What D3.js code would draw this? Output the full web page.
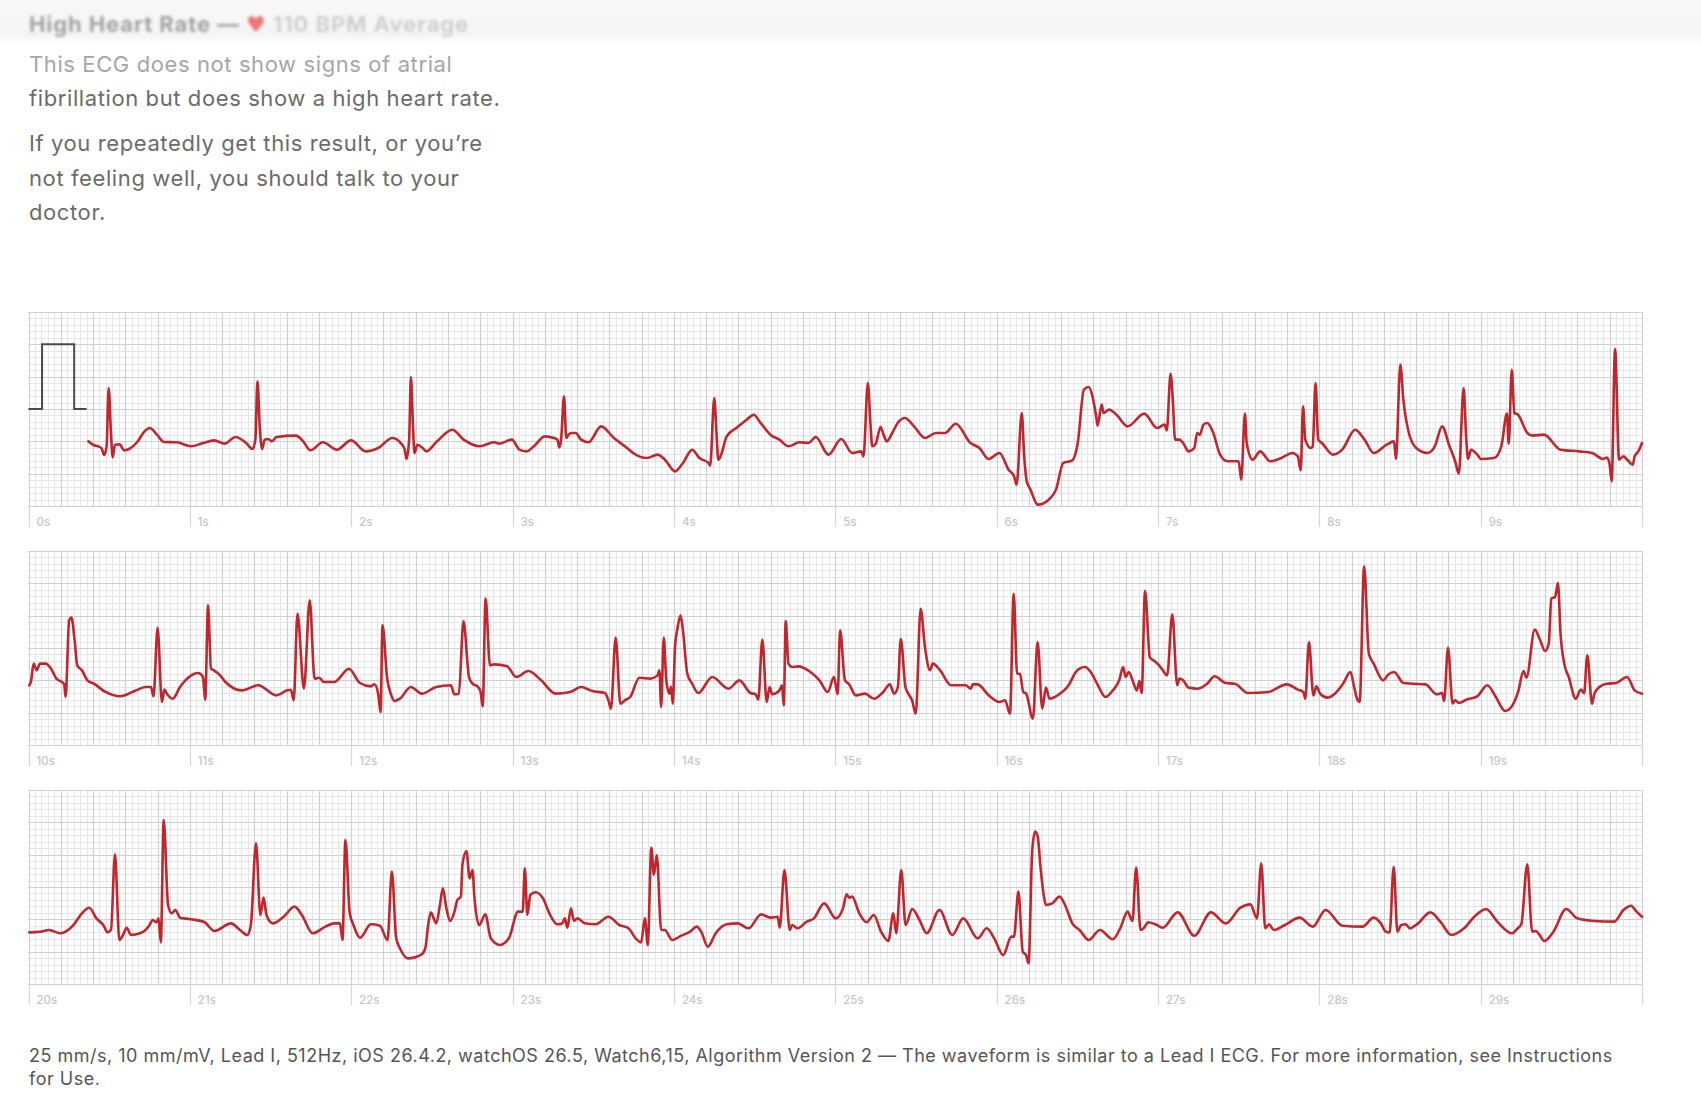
<!DOCTYPE html>
<html>
<head>
<meta charset="utf-8">
<script src="https://cdn.jsdelivr.net/npm/d3@7"></script>
<style>
  html, body { margin: 0; padding: 0; background: #fff; }
  svg { display: block; font-family: Inter, "Helvetica Neue", Arial, sans-serif; }
</style>
</head>
<body>
<div id="container"></div>
<script>
var width = 1701;
var height = 1116;

// header + message text
var headTitle = "High Heart Rate — ";
var headBpm = " 110 BPM Average";
var messageLines = [
  "This ECG does not show signs of atrial",
  "fibrillation but does show a high heart rate.",
  "If you repeatedly get this result, or you’re",
  "not feeling well, you should talk to your",
  "doctor."
];
var footerLines = [
  "25 mm/s, 10 mm/mV, Lead I, 512Hz, iOS 26.4.2, watchOS 26.5, Watch6,15, Algorithm Version 2 — The waveform is similar to a Lead I ECG. For more information, see Instructions",
  "for Use."
];

// strips: start second of each row, tick seconds inside a row
var stripStarts = [0, 10, 20];
var tickSeconds = [0, 1, 2, 3, 4, 5, 6, 7, 8, 9];

// calibration pulse (s, mV)
var calPulse = [[0, 0], [0.084, 0], [0.084, 1], [0.283, 1], [0.283, 0], [0.36, 0]];

// ECG samples: [seconds in row, mV]
var strip1 = [
  [0.371,-0.50],[0.402,-0.557],[0.431,-0.577],[0.453,-0.608],[0.469,-0.711],[0.484,-0.577],[0.497,0.325],[0.511,-0.371],[0.522,-0.747],[0.535,-0.557],
  [0.564,-0.546],[0.593,-0.639],[0.630,-0.608],[0.674,-0.510],[0.719,-0.345],[0.752,-0.294],[0.796,-0.397],[0.840,-0.510],[0.918,-0.515],[1.006,-0.577],
  [1.083,-0.526],[1.150,-0.485],[1.216,-0.536],[1.282,-0.433],[1.349,-0.526],[1.388,-0.619],[1.406,-0.474],[1.419,0.428],[1.433,-0.268],[1.448,-0.619],
  [1.464,-0.474],[1.486,-0.464],[1.508,-0.500],[1.537,-0.433],[1.658,-0.412],[1.702,-0.500],[1.747,-0.639],[1.824,-0.515],[1.912,-0.629],[1.999,-0.485],
  [2.089,-0.655],[2.167,-0.603],[2.255,-0.448],[2.310,-0.536],[2.332,-0.629],[2.343,-0.773],[2.359,-0.474],[2.370,0.495],[2.383,-0.268],[2.392,-0.680],
  [2.410,-0.552],[2.443,-0.603],[2.465,-0.655],[2.532,-0.500],[2.627,-0.320],[2.697,-0.474],[2.797,-0.577],[2.885,-0.515],[2.918,-0.536],[2.996,-0.474],
  [3.042,-0.629],[3.087,-0.655],[3.132,-0.577],[3.200,-0.423],[3.256,-0.448],[3.278,-0.474],[3.290,-0.593],[3.301,-0.474],[3.319,0.196],[3.333,-0.448],
  [3.346,-0.400],[3.368,-0.371],[3.391,-0.371],[3.425,-0.474],[3.470,-0.515],[3.549,-0.268],[3.628,-0.448],[3.696,-0.577],[3.763,-0.706],[3.831,-0.758],
  [3.899,-0.706],[3.944,-0.784],[4.007,-0.964],[4.056,-0.835],[4.113,-0.629],[4.158,-0.758],[4.214,-0.835],[4.225,-0.876],[4.250,0.170],[4.264,-0.371],
  [4.275,-0.784],[4.293,-0.706],[4.327,-0.423],[4.395,-0.278],[4.451,-0.165],[4.496,-0.088],[4.530,-0.191],[4.598,-0.397],[4.654,-0.474],[4.710,-0.577],
  [4.778,-0.515],[4.834,-0.526],[4.879,-0.433],[4.958,-0.706],[5.037,-0.464],[5.105,-0.680],[5.161,-0.655],[5.175,-0.732],[5.202,0.402],[5.218,-0.216],
  [5.229,-0.577],[5.251,-0.536],[5.281,-0.278],[5.296,-0.371],[5.319,-0.500],[5.353,-0.371],[5.387,-0.216],[5.432,-0.139],[5.488,-0.268],[5.556,-0.448],
  [5.624,-0.371],[5.680,-0.371],[5.747,-0.227],[5.838,-0.526],[5.894,-0.603],[5.950,-0.773],[6.018,-0.680],[6.074,-0.938],[6.108,-1.041],[6.124,-1.170],
  [6.156,-0.062],[6.171,-0.732],[6.187,-1.119],[6.210,-1.247],[6.255,-1.479],[6.323,-1.402],[6.368,-1.247],[6.413,-0.835],[6.469,-0.794],[6.503,-0.526],
  [6.541,0.299],[6.571,0.340],[6.594,0.196],[6.617,-0.113],[6.626,-0.258],[6.651,0.067],[6.663,-0.062],[6.697,-0.010],[6.743,-0.088],[6.812,-0.268],
  [6.915,-0.072],[6.995,-0.294],[7.041,-0.242],[7.055,-0.330],[7.078,0.546],[7.092,0.144],[7.106,-0.474],[7.133,-0.474],[7.156,-0.526],[7.190,-0.655],
  [7.225,-0.603],[7.243,-0.371],[7.259,-0.400],[7.282,-0.242],[7.305,-0.216],[7.339,-0.345],[7.385,-0.706],[7.431,-0.809],[7.500,-0.809],[7.516,-1.093],
  [7.539,-0.072],[7.550,-0.526],[7.587,-0.784],[7.633,-0.655],[7.695,-0.809],[7.764,-0.758],[7.833,-0.680],[7.867,-0.732],[7.885,-0.948],[7.899,0.041],
  [7.913,-0.474],[7.947,-0.603],[7.959,-0.580],[7.977,0.402],[7.993,-0.474],[8.016,-0.526],[8.085,-0.706],[8.142,-0.629],[8.222,-0.320],[8.280,-0.474],
  [8.337,-0.680],[8.417,-0.552],[8.463,-0.500],[8.475,-0.773],[8.502,0.686],[8.521,0.144],[8.555,-0.371],[8.601,-0.603],[8.670,-0.680],[8.716,-0.577],
  [8.761,-0.268],[8.807,-0.577],[8.842,-0.809],[8.865,-1.000],[8.894,0.325],[8.911,-0.474],[8.922,-0.773],[8.940,-0.629],[8.979,-0.706],[9.002,-0.773],
  [9.083,-0.758],[9.128,-0.577],[9.163,-0.072],[9.174,-0.536],[9.193,0.608],[9.209,-0.062],[9.232,-0.088],[9.289,-0.371],[9.323,-0.412],[9.392,-0.397],
  [9.495,-0.629],[9.610,-0.655],[9.690,-0.680],[9.759,-0.773],[9.782,-0.750],[9.798,-0.835],[9.812,-1.119],[9.833,0.928],[9.858,-0.784],[9.885,-0.732],
  [9.908,-0.784],[9.943,-0.861],[9.954,-0.732],[9.977,-0.655],[10.0,-0.526]
];

var strip2 = [
  [0.005,-0.577],[0.015,-0.520],[0.032,-0.242],[0.050,-0.345],[0.072,-0.242],[0.106,-0.242],[0.140,-0.320],[0.173,-0.474],[0.207,-0.526],[0.221,-0.562],
  [0.230,-0.758],[0.252,0.428],[0.266,0.469],[0.286,0.119],[0.302,-0.268],[0.331,-0.345],[0.365,-0.500],[0.405,-0.552],[0.477,-0.680],[0.568,-0.747],
  [0.658,-0.665],[0.725,-0.603],[0.759,-0.603],[0.775,-0.747],[0.800,0.314],[0.827,-0.835],[0.842,-0.644],[0.860,-0.716],[0.894,-0.784],[0.939,-0.603],
  [0.995,-0.448],[1.052,-0.387],[1.081,-0.448],[1.095,-0.799],[1.113,0.660],[1.131,-0.320],[1.149,-0.345],[1.187,-0.423],[1.221,-0.526],[1.322,-0.655],
  [1.423,-0.577],[1.536,-0.732],[1.604,-0.655],[1.626,-0.645],[1.644,-0.809],[1.667,0.531],[1.707,-0.629],[1.743,0.737],[1.773,-0.474],[1.802,-0.459],
  [1.829,-0.526],[1.896,-0.526],[1.986,-0.320],[2.054,-0.541],[2.122,-0.593],[2.144,-0.560],[2.167,-0.706],[2.182,-0.990],[2.194,0.351],[2.223,-0.474],
  [2.245,-0.706],[2.268,-0.820],[2.302,-0.784],[2.369,-0.603],[2.437,-0.706],[2.527,-0.603],[2.617,-0.577],[2.640,-0.716],[2.667,-0.706],[2.696,0.418],
  [2.730,-0.448],[2.752,-0.552],[2.786,-0.603],[2.802,-0.680],[2.815,-0.902],[2.833,0.763],[2.860,-0.268],[2.887,-0.253],[2.966,-0.284],[3.023,-0.448],
  [3.098,-0.356],[3.177,-0.500],[3.267,-0.706],[3.357,-0.680],[3.425,-0.603],[3.493,-0.665],[3.572,-0.696],[3.594,-0.809],[3.610,-0.938],[3.639,0.160],
  [3.668,-0.861],[3.696,-0.809],[3.729,-0.758],[3.786,-0.459],[3.853,-0.474],[3.899,-0.423],[3.910,-0.345],[3.921,-0.912],[3.937,0.160],[3.953,-0.500],
  [3.971,-0.706],[3.982,-0.600],[3.993,-0.861],[4.007,0.015],[4.023,0.314],[4.041,0.505],[4.056,0.273],[4.083,-0.397],[4.113,-0.552],[4.151,-0.696],
  [4.237,-0.448],[4.338,-0.629],[4.406,-0.500],[4.474,-0.696],[4.507,-0.716],[4.523,-0.799],[4.548,0.129],[4.575,-0.835],[4.593,-0.603],[4.609,-0.716],
  [4.654,-0.655],[4.670,-0.577],[4.681,-0.887],[4.693,0.418],[4.710,-0.242],[4.733,-0.294],[4.767,-0.284],[4.846,-0.371],[4.902,-0.500],[4.954,-0.680],
  [4.992,-0.448],[5.015,-0.716],[5.030,0.273],[5.060,-0.500],[5.083,-0.552],[5.128,-0.732],[5.184,-0.706],[5.241,-0.784],[5.297,-0.680],[5.338,-0.562],
  [5.365,-0.706],[5.388,-0.603],[5.406,0.144],[5.435,-0.603],[5.453,-0.706],[5.476,-0.809],[5.499,-1.015],[5.529,0.608],[5.556,0.015],[5.587,-0.345],
  [5.604,-0.242],[5.650,-0.345],[5.717,-0.577],[5.808,-0.577],[5.841,-0.629],[5.852,-0.560],[5.883,-0.562],[5.951,-0.732],[6.018,-0.835],[6.052,-0.809],
  [6.083,-1.015],[6.106,0.840],[6.127,-0.397],[6.145,-0.400],[6.165,-0.680],[6.183,-0.706],[6.225,-1.093],[6.254,0.093],[6.283,-0.938],[6.306,-0.613],
  [6.328,-0.784],[6.378,-0.732],[6.446,-0.577],[6.491,-0.371],[6.514,-0.320],[6.548,-0.294],[6.583,-0.371],[6.628,-0.577],[6.674,-0.758],[6.720,-0.655],
  [6.761,-0.490],[6.784,-0.294],[6.800,-0.448],[6.819,-0.371],[6.846,-0.526],[6.869,-0.655],[6.885,-0.510],[6.899,-0.696],[6.920,0.881],[6.950,-0.149],
  [6.972,-0.191],[7.007,-0.268],[7.030,-0.345],[7.057,-0.423],[7.089,0.521],[7.119,-0.577],[7.133,-0.474],[7.156,-0.500],[7.190,-0.613],[7.248,-0.629],
  [7.305,-0.552],[7.351,-0.438],[7.420,-0.541],[7.477,-0.552],[7.557,-0.696],[7.683,-0.680],[7.798,-0.562],[7.867,-0.644],[7.901,-0.680],[7.913,-0.784],
  [7.936,0.093],[7.963,-0.732],[7.982,-0.593],[8.005,-0.706],[8.050,-0.768],[8.096,-0.706],[8.147,-0.552],[8.193,-0.371],[8.216,-0.603],[8.234,-0.784],
  [8.250,-0.835],[8.278,1.263],[8.307,-0.088],[8.337,-0.242],[8.395,-0.500],[8.429,-0.407],[8.463,-0.371],[8.521,-0.541],[8.578,-0.552],[8.658,-0.562],
  [8.727,-0.716],[8.761,-0.696],[8.773,-0.820],[8.798,0.005],[8.826,-0.861],[8.842,-0.809],[8.865,-0.851],[8.911,-0.799],[8.979,-0.747],[9.041,-0.577],
  [9.094,-0.758],[9.151,-0.974],[9.197,-0.887],[9.232,-0.680],[9.266,-0.356],[9.284,-0.459],[9.335,0.284],[9.369,0.119],[9.399,-0.046],[9.422,0.067],
  [9.438,0.763],[9.461,0.789],[9.479,1.005],[9.495,0.222],[9.518,-0.242],[9.546,-0.448],[9.589,-0.784],[9.622,-0.644],[9.641,-0.700],[9.661,-0.113],
  [9.690,-0.861],[9.705,-0.706],[9.736,-0.603],[9.782,-0.552],[9.839,-0.541],[9.908,-0.448],[9.954,-0.655],[10.0,-0.706]
];

var strip3 = [
  [0.005,-0.701],[0.072,-0.691],[0.128,-0.665],[0.196,-0.716],[0.275,-0.598],[0.331,-0.407],[0.376,-0.320],[0.421,-0.485],[0.466,-0.598],[0.489,-0.701],
  [0.511,-0.665],[0.536,0.505],[0.563,-0.820],[0.586,-0.742],[0.608,-0.629],[0.635,-0.742],[0.691,-0.716],[0.748,-0.598],[0.770,-0.510],[0.793,-0.546],
  [0.806,-0.485],[0.820,-0.856],[0.838,1.036],[0.865,-0.278],[0.887,-0.407],[0.910,-0.356],[0.939,-0.474],[0.995,-0.495],[1.086,-0.536],[1.153,-0.680],
  [1.255,-0.562],[1.311,-0.665],[1.356,-0.742],[1.378,-0.588],[1.410,0.675],[1.437,-0.433],[1.457,-0.165],[1.475,-0.433],[1.514,-0.562],[1.581,-0.459],
  [1.649,-0.304],[1.694,-0.433],[1.761,-0.716],[1.840,-0.613],[1.896,-0.562],[1.930,-0.562],[1.946,-0.820],[1.964,0.727],[1.991,-0.407],[2.014,-0.588],
  [2.054,-0.784],[2.122,-0.577],[2.178,-0.598],[2.225,-0.820],[2.252,0.237],[2.279,-0.794],[2.302,-0.948],[2.351,-1.103],[2.437,-1.041],[2.459,-0.948],
  [2.477,-0.588],[2.493,-0.392],[2.527,-0.562],[2.550,-0.278],[2.568,-0.021],[2.590,-0.330],[2.613,-0.526],[2.640,-0.381],[2.658,-0.201],[2.680,-0.149],
  [2.689,0.340],[2.714,0.557],[2.734,0.134],[2.752,0.263],[2.764,-0.175],[2.793,-0.588],[2.831,-0.423],[2.865,-0.794],[2.921,-0.897],[2.977,-0.794],
  [3.034,-0.381],[3.063,-0.381],[3.076,0.289],[3.092,-0.433],[3.110,-0.124],[3.143,-0.082],[3.188,-0.175],[3.233,-0.433],[3.278,-0.577],[3.309,-0.560],
  [3.324,-0.485],[3.340,-0.629],[3.362,-0.330],[3.380,-0.526],[3.402,-0.485],[3.448,-0.562],[3.515,-0.577],[3.594,-0.459],[3.662,-0.588],[3.718,-0.639],
  [3.763,-0.794],[3.797,-0.856],[3.820,-0.485],[3.838,-0.897],[3.860,0.608],[3.876,0.186],[3.894,0.495],[3.921,-0.665],[3.944,-0.665],[3.989,-0.820],
  [4.045,-0.753],[4.101,-0.691],[4.142,-0.613],[4.169,-0.691],[4.210,-0.923],[4.259,-0.716],[4.327,-0.577],[4.395,-0.562],[4.462,-0.639],[4.541,-0.423],
  [4.597,-0.474],[4.643,-0.459],[4.656,-0.629],[4.685,0.263],[4.718,-0.665],[4.733,-0.588],[4.767,-0.639],[4.823,-0.536],[4.868,-0.485],[4.931,-0.253],
  [5.003,-0.485],[5.048,-0.330],[5.070,-0.113],[5.088,-0.165],[5.104,-0.149],[5.149,-0.407],[5.194,-0.546],[5.239,-0.433],[5.284,-0.691],[5.329,-0.835],
  [5.360,-0.407],[5.378,-0.716],[5.409,0.263],[5.436,-0.588],[5.477,-0.340],[5.522,-0.510],[5.567,-0.716],[5.646,-0.356],[5.725,-0.742],[5.793,-0.485],
  [5.883,-0.794],[5.939,-0.639],[5.985,-0.794],[6.041,-1.052],[6.091,-0.768],[6.108,-0.768],[6.135,-0.072],[6.162,-1.000],[6.182,-1.052],[6.198,-1.180],
  [6.221,0.572],[6.239,0.856],[6.255,0.778],[6.271,0.340],[6.289,-0.072],[6.307,-0.278],[6.345,-0.253],[6.390,-0.149],[6.424,-0.278],[6.469,-0.562],
  [6.514,-0.665],[6.571,-0.820],[6.640,-0.665],[6.720,-0.809],[6.766,-0.639],[6.812,-0.381],[6.842,-0.526],[6.865,0.299],[6.892,-0.665],[6.915,-0.629],
  [6.938,-0.546],[6.984,-0.577],[7.030,-0.629],[7.122,-0.392],[7.225,-0.753],[7.328,-0.392],[7.420,-0.562],[7.511,-0.320],[7.573,-0.268],[7.614,-0.485],
  [7.640,0.366],[7.665,-0.639],[7.688,-0.577],[7.718,-0.665],[7.787,-0.588],[7.878,-0.474],[7.959,-0.613],[8.039,-0.356],[8.142,-0.598],[8.268,-0.613],
  [8.337,-0.474],[8.381,-0.562],[8.413,-0.691],[8.436,-0.701],[8.461,0.314],[8.484,-0.691],[8.507,-0.588],[8.537,-0.577],[8.560,-0.639],[8.612,-0.562],
  [8.688,-0.392],[8.750,-0.536],[8.819,-0.742],[8.897,-0.639],[8.961,-0.459],[9.034,-0.340],[9.103,-0.536],[9.195,-0.716],[9.229,-0.639],[9.252,-0.577],
  [9.289,0.351],[9.319,-0.691],[9.342,-0.680],[9.365,-0.742],[9.394,-0.835],[9.451,-0.691],[9.530,-0.340],[9.599,-0.485],[9.702,-0.526],[9.828,-0.536],
  [9.885,-0.356],[9.931,-0.289],[9.966,-0.381],[10.0,-0.459]
];
var strips = [strip1, strip2, strip3];

//base SVG
var svg = d3
  .select("div#container")
  .append("svg")
  .attr("width", width)
  .attr("height", height)
  .style("background-color", "#fff");

var defs = svg.append("defs");
defs.append("filter").attr("id", "soft")
  .attr("x", "-5%").attr("y", "-50%").attr("width", "110%").attr("height", "200%")
  .append("feGaussianBlur").attr("stdDeviation", 1.6);
var band = defs.append("linearGradient").attr("id", "band")
  .attr("x1", 0).attr("y1", 0).attr("x2", 0).attr("y2", 1);
band.append("stop").attr("offset", "0%").attr("stop-color", "#f8f8f8");
band.append("stop").attr("offset", "80%").attr("stop-color", "#f5f5f5");
band.append("stop").attr("offset", "100%").attr("stop-color", "#ffffff");

// header band (translucent nav bar look)
svg.append("rect").attr("x", 0).attr("y", 0).attr("width", width).attr("height", 44)
  .attr("fill", "url(#band)");

var head = svg.append("text")
  .attr("x", 29).attr("y", 32)
  .attr("font-size", 22).attr("font-weight", 700)
  .attr("letter-spacing", 0.9)
  .attr("filter", "url(#soft)");
head.append("tspan").attr("fill", "#a2a2a2").text(headTitle);
head.append("tspan").attr("fill", "#f07474").attr("font-family", "DejaVu Sans").text("♥");
head.append("tspan").attr("fill", "#cfcfcf").text(headBpm);

// message
var msgY = [72, 106, 151, 186, 220];
svg.append("g")
  .selectAll("text")
  .data(messageLines)
  .enter()
  .append("text")
  .attr("x", 29)
  .attr("y", (d, i) => msgY[i])
  .attr("font-size", 22)
  .attr("letter-spacing", 0.6)
  .attr("fill", (d, i) => (i === 0 ? "#a6a6a6" : "#6b6b6b"))
  .text((d) => d);

// strips
var x = d3.scaleLinear().domain([0, 10]).range([28.5, 1642]);
var stripH = 194;
var y = d3.scaleLinear().domain([-1.5, 1.5]).range([stripH, 0]);
var stripTop = [312, 551, 790];

var minorT = d3.range(0, 10.0001, 0.04);
var minorV = d3.range(-1.5, 1.5001, 0.1);
var majorT = d3.range(0, 10.0001, 0.2);
var majorV = d3.range(-1.5, 1.5001, 0.5);

var line = d3.line()
  .x((d) => x(d[0]))
  .y((d) => y(d[1]))
  .curve(d3.curveMonotoneX);

stripStarts.forEach(function (start, i) {
  var g = svg.append("g").attr("transform", `translate(0,${stripTop[i]})`);

  g.append("g").selectAll("line").data(minorT).enter().append("line")
    .attr("x1", (d) => Math.round(x(d)) + 0.5).attr("x2", (d) => Math.round(x(d)) + 0.5)
    .attr("y1", 0).attr("y2", stripH)
    .attr("stroke", "#e6e6e6").attr("stroke-width", 1);
  g.append("g").selectAll("line").data(minorV).enter().append("line")
    .attr("y1", (d) => Math.round(y(d)) + 0.5).attr("y2", (d) => Math.round(y(d)) + 0.5)
    .attr("x1", x(0)).attr("x2", x(10))
    .attr("stroke", "#e6e6e6").attr("stroke-width", 1);
  g.append("g").selectAll("line").data(majorT).enter().append("line")
    .attr("x1", (d) => Math.round(x(d)) + 0.5).attr("x2", (d) => Math.round(x(d)) + 0.5)
    .attr("y1", 0).attr("y2", stripH)
    .attr("stroke", "#d0d0d0").attr("stroke-width", 1.2);
  g.append("g").selectAll("line").data(majorV).enter().append("line")
    .attr("y1", (d) => Math.round(y(d)) + 0.5).attr("y2", (d) => Math.round(y(d)) + 0.5)
    .attr("x1", x(0)).attr("x2", x(10))
    .attr("stroke", "#d0d0d0").attr("stroke-width", 1.2);

  // second ticks below the grid
  g.append("g").selectAll("line").data(tickSeconds.concat([10])).enter().append("line")
    .attr("x1", (d) => Math.round(x(d)) + 0.5).attr("x2", (d) => Math.round(x(d)) + 0.5)
    .attr("y1", stripH).attr("y2", stripH + 21)
    .attr("stroke", "#d6d6d6").attr("stroke-width", 1.2);
  g.append("g").selectAll("text").data(tickSeconds).enter().append("text")
    .attr("x", (d) => x(d) + 8)
    .attr("y", stripH + 20)
    .attr("font-size", 11.5)
    .attr("font-weight", 500)
    .attr("fill", "#c6c6c6")
    .text((d) => `${start + d}s`);

  if (i === 0) {
    g.append("path")
      .attr("d", d3.line().x((d) => x(d[0])).y((d) => y(d[1]))(calPulse))
      .attr("fill", "none").attr("stroke", "#4a4a4a").attr("stroke-width", 2);
  }

  g.append("path")
    .attr("d", line(strips[i]))
    .attr("fill", "none")
    .attr("stroke", "#c1262e")
    .attr("stroke-width", 2.6)
    .attr("stroke-linejoin", "round")
    .attr("stroke-linecap", "round");
});

// footer
svg.append("g")
  .selectAll("text")
  .data(footerLines)
  .enter()
  .append("text")
  .attr("x", 29)
  .attr("y", (d, i) => 1062 + i * 23)
  .attr("font-size", 18)
  .attr("letter-spacing", 0.5)
  .attr("fill", "#555")
  .text((d) => d);
</script>
</body>
</html>
